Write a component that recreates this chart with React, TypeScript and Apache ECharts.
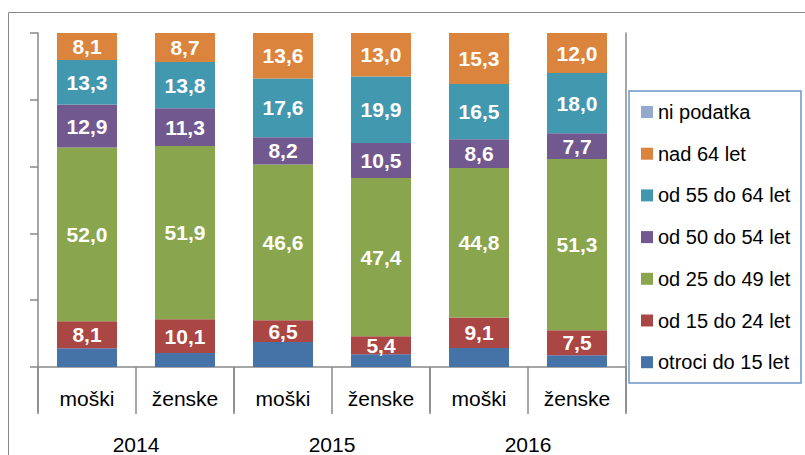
import React, { useEffect, useRef } from "react";
import * as echarts from "echarts";

const categories = ["moški", "ženske", "moški", "ženske", "moški", "ženske"];
const years = ["2014", "2015", "2016"];
const yTicks = [0, 20, 40, 60, 80, 100];

const otroci = [5.6, 4.2, 7.5, 3.8, 5.7, 3.5];
const od15do24 = [8.1, 10.1, 6.5, 5.4, 9.1, 7.5];
const od25do49 = [52.0, 51.9, 46.6, 47.4, 44.8, 51.3];
const od50do54 = [12.9, 11.3, 8.2, 10.5, 8.6, 7.7];
const od55do64 = [13.3, 13.8, 17.6, 19.9, 16.5, 18.0];
const nad64 = [8.1, 8.7, 13.6, 13.0, 15.3, 12.0];
const niPodatka = [0, 0, 0, 0, 0, 0];

const seriesDefs = [
  { name: "otroci do 15 let", data: otroci, color: "#4572A7", label: false },
  { name: "od 15 do 24 let", data: od15do24, color: "#AA4643", label: true },
  { name: "od 25 do 49 let", data: od25do49, color: "#89A54E", label: true },
  { name: "od 50 do 54 let", data: od50do54, color: "#71588F", label: true },
  { name: "od 55 do 64 let", data: od55do64, color: "#4198AF", label: true },
  { name: "nad 64 let", data: nad64, color: "#DB843D", label: true },
  { name: "ni podatka", data: niPodatka, color: "#93A9CF", label: false },
];

const FONT = "Liberation Sans";
const GRAY = "#898989";

export default function App() {
  const ref = useRef<HTMLDivElement>(null);
  useEffect(() => {
    if (!ref.current) return;
    const chart = echarts.init(ref.current, null, { renderer: "svg" });
    chart.setOption({
      animation: false,
      textStyle: { fontFamily: FONT },
      grid: { left: 38, right: 179, top: 33, bottom: 88, containLabel: false },
      legend: {
        orient: "vertical",
        left: 641,
        top: 102,
        padding: 0,
        itemWidth: 12,
        itemHeight: 12,
        itemGap: 21.7,
        icon: "rect",
        data: seriesDefs.map((s) => s.name).reverse(),
        textStyle: { fontFamily: FONT, fontSize: 20, color: "#000" },
      },
      graphic: [
        {
          type: "rect",
          shape: { x: 8.5, y: 12.5, width: 1000, height: 1000 },
          style: { fill: "none", stroke: GRAY, lineWidth: 1 },
          silent: true,
        },
        {
          type: "rect",
          shape: { x: 629, y: 91, width: 172, height: 292 },
          style: { fill: "none", stroke: "#6E97CC", lineWidth: 1.5 },
          silent: true,
        },
      ],
      xAxis: [
        {
          type: "category",
          data: categories,
          position: "bottom",
          axisLine: { show: true, lineStyle: { color: GRAY, width: 1.5 } },
          axisTick: { show: true, length: 47, interval: 0, lineStyle: { color: GRAY, width: 1.5 } },
          axisLabel: { interval: 0, margin: 21, fontFamily: FONT, fontSize: 21, color: "#000" },
        },
        {
          type: "category",
          data: years,
          position: "bottom",
          offset: 47,
          axisLine: { show: false },
          axisTick: { show: true, length: 45, interval: 0, lineStyle: { color: GRAY, width: 1.5 } },
          axisLabel: { interval: 0, margin: 20, fontFamily: FONT, fontSize: 21, color: "#000" },
        },
      ],
      yAxis: [
        {
          type: "value",
          min: yTicks[0],
          max: yTicks[yTicks.length - 1],
          interval: 20,
          axisLine: { show: true, lineStyle: { color: GRAY, width: 1.5 } },
          axisTick: { show: true, inside: false, length: 8, lineStyle: { color: GRAY, width: 1.5 } },
          axisLabel: { show: false },
          splitLine: { show: false },
        },
        {
          type: "value",
          position: "right",
          min: 0,
          max: 100,
          interval: 20,
          axisLine: { show: true, lineStyle: { color: GRAY, width: 1.5 } },
          axisTick: { show: false },
          axisLabel: { show: false },
          splitLine: { show: false },
        },
      ],
      series: seriesDefs.map((s) => ({
        name: s.name,
        type: "bar",
        stack: "total",
        xAxisIndex: 0,
        yAxisIndex: 0,
        barWidth: 60,
        data: s.data,
        itemStyle: { color: s.color },
        label: {
          show: s.label,
          position: "inside",
          color: "#fff",
          fontFamily: FONT,
          fontWeight: "bold",
          fontSize: 21,
          formatter: (p: any) => Number(p.value).toFixed(1).replace(".", ","),
        },
      })),
    });
    return () => chart.dispose();
  }, []);
  return (
    <div
      ref={ref}
      style={{ position: "absolute", left: 0, top: 0, width: 805, height: 455 }}
    />
  );
}
